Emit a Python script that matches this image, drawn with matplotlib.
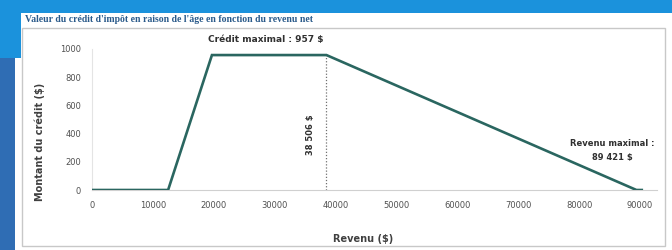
import matplotlib.pyplot as plt
from matplotlib.patches import Rectangle

# revenu net ($) / valeur du credit ($)
revenu = [0, 12500, 19700, 38506, 89421, 90300]
credit = [0, 0, 957, 957, 0, 0]

xticks = [0, 10000, 20000, 30000, 40000, 50000, 60000, 70000, 80000, 90000]
yticks = [0, 200, 400, 600, 800, 1000]

seuil = 38506
credit_max = 957

W, H = 672, 250
fig = plt.figure(figsize=(W / 100, H / 100), dpi=100)
fig.patch.set_facecolor('white')

def px(x, y, w, h):
    # rectangle in pixel coords (top-left origin) -> figure fraction
    return (x / W, 1 - (y + h) / H), w / W, h / H

# blue page background around the panel
for (x, y, w, h), c in [((0, 0, 672, 13), '#1b92dc'),
                        ((0, 0, 15, 250), '#2f6db4'),
                        ((0, 0, 21, 58), '#1b92dc')]:
    xy, ww, hh = px(x, y, w, h)
    fig.patches.append(Rectangle(xy, ww, hh, transform=fig.transFigure,
                                 facecolor=c, edgecolor='none', zorder=-5))

# inner chart box
xy, ww, hh = px(22, 28, 643, 218)
fig.patches.append(Rectangle(xy, ww, hh, transform=fig.transFigure,
                             facecolor='white', edgecolor='#c8c8c8', lw=1, zorder=-4))

fig.text(25 / W, 1 - 20 / H,
         "Valeur du crédit d'impôt en raison de l'âge en fonction du revenu net",
         fontsize=7, color='#2a5a8a', family='Liberation Serif', fontweight='bold',
         va='center', ha='left')

ax = fig.add_axes([92 / W, 1 - 190 / H, (657 - 92) / W, (190 - 49) / H])
ax.set_facecolor('white')
ax.plot(revenu, credit, color='#2a6660', lw=1.9, solid_joinstyle='miter', zorder=3)
ax.plot([seuil, seuil], [0, credit_max], color='#707070', lw=0.9, ls=(0, (1, 1.5)), zorder=2)

ax.set_xlim(0, 92800)
ax.set_ylim(0, 1000)
ax.set_xticks(xticks)
ax.set_xticklabels([str(v) for v in xticks])
ax.set_yticks(yticks)
ax.tick_params(length=0, labelsize=6, labelcolor='#505050', pad=8)

for s in ['top', 'right']:
    ax.spines[s].set_visible(False)
ax.spines['left'].set_color('#e4e4e4')
ax.spines['bottom'].set_color('#d0d0d0')
ax.spines['left'].set_linewidth(0.8)
ax.spines['bottom'].set_linewidth(0.8)

ax.set_xlabel('Revenu ($)', fontsize=7, fontweight='bold', color='#404040')
ax.xaxis.set_label_coords(0.48, -0.31)
ax.set_ylabel('Montant du crédit ($)', fontsize=7, fontweight='bold', color='#404040')
ax.yaxis.set_label_coords(-0.083, 0.34)

ax.annotate('Crédit maximal : 957 $', xy=(28500, credit_max), xytext=(0, 8),
            textcoords='offset points', ha='center', va='bottom',
            fontsize=6.5, fontweight='bold', color='#303030')
ax.text(seuil - 2600, 390, '38 506 $', rotation=90, ha='center', va='center',
        fontsize=6, fontweight='bold', color='#303030')
ax.text(85500, 280, 'Revenu maximal :\n89 421 $', ha='center', va='center',
        fontsize=6, fontweight='bold', color='#303030', linespacing=1.6)

fig.savefig('out.png', dpi=100)
